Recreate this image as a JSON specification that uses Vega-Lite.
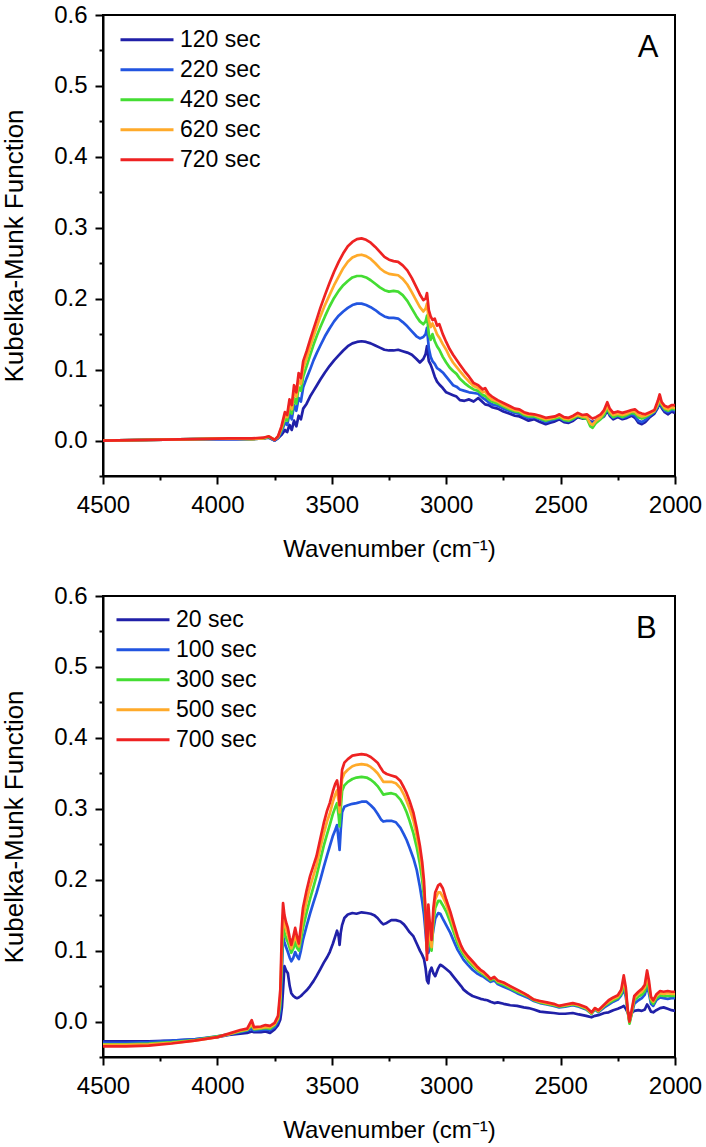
{
"$schema": "https://vega.github.io/schema/vega-lite/v6.json",
"padding": {"left": 0, "top": 2, "right": 0, "bottom": 0},
"config": {
  "font": "Liberation Sans",
  "view": {"stroke": "black", "strokeWidth": 2},
  "axis": {"grid": false, "domainColor": "black", "domainWidth": 2, "tickColor": "black", "tickWidth": 2, "labelColor": "black", "titleColor": "black", "labelFont": "Liberation Sans", "titleFont": "Liberation Sans", "labelFontSize": 24, "titleFontSize": 24, "titleFontWeight": "normal", "labelFlush": false, "labelOverlap": false, "tickCount": 30},
  "legend": {"orient": "none", "title": null, "symbolType": "stroke", "symbolSize": 2809, "symbolStrokeWidth": 3, "labelFontSize": 23, "labelFont": "Liberation Sans", "labelColor": "black", "clipHeight": 27.5, "rowPadding": 2, "padding": 0, "labelOffset": 5, "labelLimit": 300}
},
"columns": 1,
"spacing": 21,
"resolve": {"scale": {"color": "independent"}, "legend": {"color": "independent"}},
"datasets": {
"A": [
{"time":"120 sec","wn":4500,"km":0.000},{"time":"120 sec","wn":4300,"km":0.001},{"time":"120 sec","wn":4100,"km":0.002},{"time":"120 sec","wn":3950,"km":0.002},{"time":"120 sec","wn":3850,"km":0.002},{"time":"120 sec","wn":3800,"km":0.003},{"time":"120 sec","wn":3775,"km":0.004},{"time":"120 sec","wn":3750,"km":0.000},{"time":"120 sec","wn":3735,"km":0.003},{"time":"120 sec","wn":3720,"km":0.008},{"time":"120 sec","wn":3705,"km":0.015},{"time":"120 sec","wn":3695,"km":0.012},{"time":"120 sec","wn":3685,"km":0.022},{"time":"120 sec","wn":3675,"km":0.015},{"time":"120 sec","wn":3665,"km":0.028},{"time":"120 sec","wn":3655,"km":0.020},{"time":"120 sec","wn":3645,"km":0.035},{"time":"120 sec","wn":3635,"km":0.030},{"time":"120 sec","wn":3625,"km":0.045},{"time":"120 sec","wn":3610,"km":0.052},{"time":"120 sec","wn":3595,"km":0.062},{"time":"120 sec","wn":3580,"km":0.070},{"time":"120 sec","wn":3565,"km":0.078},{"time":"120 sec","wn":3550,"km":0.086},{"time":"120 sec","wn":3530,"km":0.096},{"time":"120 sec","wn":3510,"km":0.105},{"time":"120 sec","wn":3490,"km":0.113},{"time":"120 sec","wn":3470,"km":0.120},{"time":"120 sec","wn":3450,"km":0.127},{"time":"120 sec","wn":3430,"km":0.133},{"time":"120 sec","wn":3410,"km":0.137},{"time":"120 sec","wn":3390,"km":0.139},{"time":"120 sec","wn":3370,"km":0.140},{"time":"120 sec","wn":3350,"km":0.139},{"time":"120 sec","wn":3330,"km":0.137},{"time":"120 sec","wn":3310,"km":0.134},{"time":"120 sec","wn":3290,"km":0.131},{"time":"120 sec","wn":3270,"km":0.128},{"time":"120 sec","wn":3250,"km":0.127},{"time":"120 sec","wn":3230,"km":0.127},{"time":"120 sec","wn":3210,"km":0.128},{"time":"120 sec","wn":3190,"km":0.126},{"time":"120 sec","wn":3170,"km":0.124},{"time":"120 sec","wn":3150,"km":0.121},{"time":"120 sec","wn":3130,"km":0.115},{"time":"120 sec","wn":3115,"km":0.110},{"time":"120 sec","wn":3100,"km":0.115},{"time":"120 sec","wn":3090,"km":0.122},{"time":"120 sec","wn":3084,"km":0.133},{"time":"120 sec","wn":3076,"km":0.112},{"time":"120 sec","wn":3068,"km":0.107},{"time":"120 sec","wn":3060,"km":0.100},{"time":"120 sec","wn":3050,"km":0.090},{"time":"120 sec","wn":3040,"km":0.083},{"time":"120 sec","wn":3030,"km":0.079},{"time":"120 sec","wn":3015,"km":0.074},{"time":"120 sec","wn":3000,"km":0.068},{"time":"120 sec","wn":2985,"km":0.066},{"time":"120 sec","wn":2970,"km":0.064},{"time":"120 sec","wn":2955,"km":0.062},{"time":"120 sec","wn":2940,"km":0.057},{"time":"120 sec","wn":2920,"km":0.056},{"time":"120 sec","wn":2900,"km":0.058},{"time":"120 sec","wn":2880,"km":0.055},{"time":"120 sec","wn":2860,"km":0.060},{"time":"120 sec","wn":2840,"km":0.054},{"time":"120 sec","wn":2830,"km":0.051},{"time":"120 sec","wn":2815,"km":0.050},{"time":"120 sec","wn":2800,"km":0.047},{"time":"120 sec","wn":2775,"km":0.045},{"time":"120 sec","wn":2750,"km":0.041},{"time":"120 sec","wn":2725,"km":0.038},{"time":"120 sec","wn":2700,"km":0.035},{"time":"120 sec","wn":2680,"km":0.034},{"time":"120 sec","wn":2660,"km":0.031},{"time":"120 sec","wn":2640,"km":0.028},{"time":"120 sec","wn":2615,"km":0.030},{"time":"120 sec","wn":2590,"km":0.026},{"time":"120 sec","wn":2565,"km":0.023},{"time":"120 sec","wn":2545,"km":0.025},{"time":"120 sec","wn":2525,"km":0.027},{"time":"120 sec","wn":2505,"km":0.030},{"time":"120 sec","wn":2485,"km":0.026},{"time":"120 sec","wn":2465,"km":0.025},{"time":"120 sec","wn":2445,"km":0.028},{"time":"120 sec","wn":2425,"km":0.033},{"time":"120 sec","wn":2405,"km":0.031},{"time":"120 sec","wn":2385,"km":0.031},{"time":"120 sec","wn":2370,"km":0.027},{"time":"120 sec","wn":2360,"km":0.026},{"time":"120 sec","wn":2345,"km":0.028},{"time":"120 sec","wn":2325,"km":0.031},{"time":"120 sec","wn":2310,"km":0.034},{"time":"120 sec","wn":2296,"km":0.042},{"time":"120 sec","wn":2285,"km":0.035},{"time":"120 sec","wn":2270,"km":0.030},{"time":"120 sec","wn":2250,"km":0.033},{"time":"120 sec","wn":2230,"km":0.030},{"time":"120 sec","wn":2210,"km":0.032},{"time":"120 sec","wn":2190,"km":0.035},{"time":"120 sec","wn":2175,"km":0.032},{"time":"120 sec","wn":2160,"km":0.025},{"time":"120 sec","wn":2145,"km":0.023},{"time":"120 sec","wn":2130,"km":0.026},{"time":"120 sec","wn":2110,"km":0.033},{"time":"120 sec","wn":2090,"km":0.038},{"time":"120 sec","wn":2075,"km":0.046},{"time":"120 sec","wn":2067,"km":0.055},{"time":"120 sec","wn":2058,"km":0.046},{"time":"120 sec","wn":2045,"km":0.040},{"time":"120 sec","wn":2030,"km":0.037},{"time":"120 sec","wn":2015,"km":0.041},{"time":"120 sec","wn":2000,"km":0.039},
{"time":"220 sec","wn":4500,"km":0.000},{"time":"220 sec","wn":4300,"km":0.001},{"time":"220 sec","wn":4100,"km":0.002},{"time":"220 sec","wn":3950,"km":0.002},{"time":"220 sec","wn":3850,"km":0.002},{"time":"220 sec","wn":3800,"km":0.003},{"time":"220 sec","wn":3775,"km":0.005},{"time":"220 sec","wn":3750,"km":0.000},{"time":"220 sec","wn":3735,"km":0.004},{"time":"220 sec","wn":3720,"km":0.012},{"time":"220 sec","wn":3705,"km":0.025},{"time":"220 sec","wn":3695,"km":0.022},{"time":"220 sec","wn":3685,"km":0.038},{"time":"220 sec","wn":3675,"km":0.030},{"time":"220 sec","wn":3665,"km":0.050},{"time":"220 sec","wn":3655,"km":0.042},{"time":"220 sec","wn":3645,"km":0.060},{"time":"220 sec","wn":3635,"km":0.055},{"time":"220 sec","wn":3625,"km":0.075},{"time":"220 sec","wn":3610,"km":0.088},{"time":"220 sec","wn":3595,"km":0.100},{"time":"220 sec","wn":3580,"km":0.113},{"time":"220 sec","wn":3565,"km":0.124},{"time":"220 sec","wn":3550,"km":0.134},{"time":"220 sec","wn":3530,"km":0.147},{"time":"220 sec","wn":3510,"km":0.158},{"time":"220 sec","wn":3490,"km":0.168},{"time":"220 sec","wn":3470,"km":0.176},{"time":"220 sec","wn":3450,"km":0.182},{"time":"220 sec","wn":3430,"km":0.187},{"time":"220 sec","wn":3410,"km":0.191},{"time":"220 sec","wn":3390,"km":0.193},{"time":"220 sec","wn":3370,"km":0.193},{"time":"220 sec","wn":3350,"km":0.191},{"time":"220 sec","wn":3330,"km":0.188},{"time":"220 sec","wn":3310,"km":0.184},{"time":"220 sec","wn":3290,"km":0.179},{"time":"220 sec","wn":3270,"km":0.175},{"time":"220 sec","wn":3250,"km":0.173},{"time":"220 sec","wn":3230,"km":0.173},{"time":"220 sec","wn":3210,"km":0.172},{"time":"220 sec","wn":3190,"km":0.167},{"time":"220 sec","wn":3170,"km":0.161},{"time":"220 sec","wn":3150,"km":0.154},{"time":"220 sec","wn":3130,"km":0.147},{"time":"220 sec","wn":3115,"km":0.144},{"time":"220 sec","wn":3100,"km":0.146},{"time":"220 sec","wn":3090,"km":0.150},{"time":"220 sec","wn":3084,"km":0.159},{"time":"220 sec","wn":3076,"km":0.130},{"time":"220 sec","wn":3068,"km":0.118},{"time":"220 sec","wn":3060,"km":0.112},{"time":"220 sec","wn":3050,"km":0.108},{"time":"220 sec","wn":3040,"km":0.102},{"time":"220 sec","wn":3030,"km":0.100},{"time":"220 sec","wn":3015,"km":0.096},{"time":"220 sec","wn":3000,"km":0.090},{"time":"220 sec","wn":2985,"km":0.084},{"time":"220 sec","wn":2970,"km":0.078},{"time":"220 sec","wn":2955,"km":0.076},{"time":"220 sec","wn":2940,"km":0.072},{"time":"220 sec","wn":2920,"km":0.070},{"time":"220 sec","wn":2900,"km":0.068},{"time":"220 sec","wn":2880,"km":0.067},{"time":"220 sec","wn":2860,"km":0.066},{"time":"220 sec","wn":2840,"km":0.060},{"time":"220 sec","wn":2830,"km":0.058},{"time":"220 sec","wn":2815,"km":0.054},{"time":"220 sec","wn":2800,"km":0.051},{"time":"220 sec","wn":2775,"km":0.049},{"time":"220 sec","wn":2750,"km":0.045},{"time":"220 sec","wn":2725,"km":0.042},{"time":"220 sec","wn":2700,"km":0.039},{"time":"220 sec","wn":2680,"km":0.038},{"time":"220 sec","wn":2660,"km":0.034},{"time":"220 sec","wn":2640,"km":0.032},{"time":"220 sec","wn":2615,"km":0.033},{"time":"220 sec","wn":2590,"km":0.030},{"time":"220 sec","wn":2565,"km":0.026},{"time":"220 sec","wn":2545,"km":0.028},{"time":"220 sec","wn":2525,"km":0.030},{"time":"220 sec","wn":2505,"km":0.032},{"time":"220 sec","wn":2485,"km":0.028},{"time":"220 sec","wn":2465,"km":0.027},{"time":"220 sec","wn":2445,"km":0.030},{"time":"220 sec","wn":2425,"km":0.035},{"time":"220 sec","wn":2405,"km":0.032},{"time":"220 sec","wn":2385,"km":0.032},{"time":"220 sec","wn":2370,"km":0.026},{"time":"220 sec","wn":2360,"km":0.024},{"time":"220 sec","wn":2345,"km":0.028},{"time":"220 sec","wn":2325,"km":0.032},{"time":"220 sec","wn":2310,"km":0.036},{"time":"220 sec","wn":2296,"km":0.045},{"time":"220 sec","wn":2285,"km":0.037},{"time":"220 sec","wn":2270,"km":0.032},{"time":"220 sec","wn":2250,"km":0.035},{"time":"220 sec","wn":2230,"km":0.032},{"time":"220 sec","wn":2210,"km":0.034},{"time":"220 sec","wn":2190,"km":0.037},{"time":"220 sec","wn":2175,"km":0.035},{"time":"220 sec","wn":2160,"km":0.028},{"time":"220 sec","wn":2145,"km":0.026},{"time":"220 sec","wn":2130,"km":0.029},{"time":"220 sec","wn":2110,"km":0.035},{"time":"220 sec","wn":2090,"km":0.040},{"time":"220 sec","wn":2075,"km":0.048},{"time":"220 sec","wn":2067,"km":0.057},{"time":"220 sec","wn":2058,"km":0.048},{"time":"220 sec","wn":2045,"km":0.042},{"time":"220 sec","wn":2030,"km":0.040},{"time":"220 sec","wn":2015,"km":0.043},{"time":"220 sec","wn":2000,"km":0.042},
{"time":"420 sec","wn":4500,"km":0.000},{"time":"420 sec","wn":4300,"km":0.001},{"time":"420 sec","wn":4100,"km":0.002},{"time":"420 sec","wn":3950,"km":0.003},{"time":"420 sec","wn":3850,"km":0.002},{"time":"420 sec","wn":3800,"km":0.003},{"time":"420 sec","wn":3775,"km":0.005},{"time":"420 sec","wn":3750,"km":0.001},{"time":"420 sec","wn":3735,"km":0.005},{"time":"420 sec","wn":3720,"km":0.015},{"time":"420 sec","wn":3705,"km":0.030},{"time":"420 sec","wn":3695,"km":0.028},{"time":"420 sec","wn":3685,"km":0.045},{"time":"420 sec","wn":3675,"km":0.038},{"time":"420 sec","wn":3665,"km":0.060},{"time":"420 sec","wn":3655,"km":0.052},{"time":"420 sec","wn":3645,"km":0.075},{"time":"420 sec","wn":3635,"km":0.070},{"time":"420 sec","wn":3625,"km":0.090},{"time":"420 sec","wn":3610,"km":0.105},{"time":"420 sec","wn":3595,"km":0.120},{"time":"420 sec","wn":3580,"km":0.135},{"time":"420 sec","wn":3565,"km":0.148},{"time":"420 sec","wn":3550,"km":0.160},{"time":"420 sec","wn":3530,"km":0.175},{"time":"420 sec","wn":3510,"km":0.189},{"time":"420 sec","wn":3490,"km":0.201},{"time":"420 sec","wn":3470,"km":0.211},{"time":"420 sec","wn":3450,"km":0.219},{"time":"420 sec","wn":3430,"km":0.225},{"time":"420 sec","wn":3410,"km":0.230},{"time":"420 sec","wn":3390,"km":0.232},{"time":"420 sec","wn":3370,"km":0.232},{"time":"420 sec","wn":3350,"km":0.230},{"time":"420 sec","wn":3330,"km":0.226},{"time":"420 sec","wn":3310,"km":0.221},{"time":"420 sec","wn":3290,"km":0.216},{"time":"420 sec","wn":3270,"km":0.212},{"time":"420 sec","wn":3250,"km":0.210},{"time":"420 sec","wn":3230,"km":0.211},{"time":"420 sec","wn":3210,"km":0.210},{"time":"420 sec","wn":3190,"km":0.205},{"time":"420 sec","wn":3170,"km":0.197},{"time":"420 sec","wn":3150,"km":0.186},{"time":"420 sec","wn":3130,"km":0.175},{"time":"420 sec","wn":3115,"km":0.168},{"time":"420 sec","wn":3100,"km":0.164},{"time":"420 sec","wn":3090,"km":0.168},{"time":"420 sec","wn":3084,"km":0.176},{"time":"420 sec","wn":3076,"km":0.150},{"time":"420 sec","wn":3068,"km":0.142},{"time":"420 sec","wn":3060,"km":0.150},{"time":"420 sec","wn":3050,"km":0.140},{"time":"420 sec","wn":3040,"km":0.133},{"time":"420 sec","wn":3030,"km":0.128},{"time":"420 sec","wn":3015,"km":0.118},{"time":"420 sec","wn":3000,"km":0.110},{"time":"420 sec","wn":2985,"km":0.103},{"time":"420 sec","wn":2970,"km":0.098},{"time":"420 sec","wn":2955,"km":0.094},{"time":"420 sec","wn":2940,"km":0.087},{"time":"420 sec","wn":2920,"km":0.081},{"time":"420 sec","wn":2900,"km":0.076},{"time":"420 sec","wn":2880,"km":0.072},{"time":"420 sec","wn":2860,"km":0.070},{"time":"420 sec","wn":2840,"km":0.064},{"time":"420 sec","wn":2830,"km":0.063},{"time":"420 sec","wn":2815,"km":0.058},{"time":"420 sec","wn":2800,"km":0.055},{"time":"420 sec","wn":2775,"km":0.052},{"time":"420 sec","wn":2750,"km":0.048},{"time":"420 sec","wn":2725,"km":0.044},{"time":"420 sec","wn":2700,"km":0.041},{"time":"420 sec","wn":2680,"km":0.040},{"time":"420 sec","wn":2660,"km":0.036},{"time":"420 sec","wn":2640,"km":0.034},{"time":"420 sec","wn":2615,"km":0.034},{"time":"420 sec","wn":2590,"km":0.031},{"time":"420 sec","wn":2565,"km":0.028},{"time":"420 sec","wn":2545,"km":0.030},{"time":"420 sec","wn":2525,"km":0.031},{"time":"420 sec","wn":2505,"km":0.033},{"time":"420 sec","wn":2485,"km":0.029},{"time":"420 sec","wn":2465,"km":0.028},{"time":"420 sec","wn":2445,"km":0.031},{"time":"420 sec","wn":2425,"km":0.035},{"time":"420 sec","wn":2405,"km":0.032},{"time":"420 sec","wn":2385,"km":0.031},{"time":"420 sec","wn":2370,"km":0.020},{"time":"420 sec","wn":2360,"km":0.018},{"time":"420 sec","wn":2345,"km":0.025},{"time":"420 sec","wn":2325,"km":0.030},{"time":"420 sec","wn":2310,"km":0.036},{"time":"420 sec","wn":2296,"km":0.046},{"time":"420 sec","wn":2285,"km":0.038},{"time":"420 sec","wn":2270,"km":0.033},{"time":"420 sec","wn":2250,"km":0.036},{"time":"420 sec","wn":2230,"km":0.033},{"time":"420 sec","wn":2210,"km":0.036},{"time":"420 sec","wn":2190,"km":0.039},{"time":"420 sec","wn":2175,"km":0.038},{"time":"420 sec","wn":2160,"km":0.033},{"time":"420 sec","wn":2145,"km":0.031},{"time":"420 sec","wn":2130,"km":0.033},{"time":"420 sec","wn":2110,"km":0.037},{"time":"420 sec","wn":2090,"km":0.041},{"time":"420 sec","wn":2075,"km":0.050},{"time":"420 sec","wn":2067,"km":0.059},{"time":"420 sec","wn":2058,"km":0.050},{"time":"420 sec","wn":2045,"km":0.044},{"time":"420 sec","wn":2030,"km":0.042},{"time":"420 sec","wn":2015,"km":0.045},{"time":"420 sec","wn":2000,"km":0.044},
{"time":"620 sec","wn":4500,"km":0.000},{"time":"620 sec","wn":4300,"km":0.001},{"time":"620 sec","wn":4100,"km":0.002},{"time":"620 sec","wn":3950,"km":0.003},{"time":"620 sec","wn":3850,"km":0.002},{"time":"620 sec","wn":3800,"km":0.003},{"time":"620 sec","wn":3775,"km":0.006},{"time":"620 sec","wn":3750,"km":0.001},{"time":"620 sec","wn":3735,"km":0.005},{"time":"620 sec","wn":3720,"km":0.018},{"time":"620 sec","wn":3705,"km":0.035},{"time":"620 sec","wn":3695,"km":0.033},{"time":"620 sec","wn":3685,"km":0.052},{"time":"620 sec","wn":3675,"km":0.044},{"time":"620 sec","wn":3665,"km":0.070},{"time":"620 sec","wn":3655,"km":0.062},{"time":"620 sec","wn":3645,"km":0.085},{"time":"620 sec","wn":3635,"km":0.080},{"time":"620 sec","wn":3625,"km":0.102},{"time":"620 sec","wn":3610,"km":0.116},{"time":"620 sec","wn":3595,"km":0.132},{"time":"620 sec","wn":3580,"km":0.147},{"time":"620 sec","wn":3565,"km":0.161},{"time":"620 sec","wn":3550,"km":0.175},{"time":"620 sec","wn":3530,"km":0.191},{"time":"620 sec","wn":3510,"km":0.205},{"time":"620 sec","wn":3490,"km":0.219},{"time":"620 sec","wn":3470,"km":0.231},{"time":"620 sec","wn":3450,"km":0.243},{"time":"620 sec","wn":3430,"km":0.252},{"time":"620 sec","wn":3410,"km":0.258},{"time":"620 sec","wn":3390,"km":0.261},{"time":"620 sec","wn":3370,"km":0.262},{"time":"620 sec","wn":3350,"km":0.260},{"time":"620 sec","wn":3330,"km":0.256},{"time":"620 sec","wn":3310,"km":0.250},{"time":"620 sec","wn":3290,"km":0.243},{"time":"620 sec","wn":3270,"km":0.238},{"time":"620 sec","wn":3250,"km":0.235},{"time":"620 sec","wn":3230,"km":0.234},{"time":"620 sec","wn":3210,"km":0.233},{"time":"620 sec","wn":3190,"km":0.228},{"time":"620 sec","wn":3170,"km":0.220},{"time":"620 sec","wn":3150,"km":0.209},{"time":"620 sec","wn":3130,"km":0.197},{"time":"620 sec","wn":3115,"km":0.188},{"time":"620 sec","wn":3100,"km":0.182},{"time":"620 sec","wn":3090,"km":0.186},{"time":"620 sec","wn":3084,"km":0.193},{"time":"620 sec","wn":3076,"km":0.170},{"time":"620 sec","wn":3068,"km":0.160},{"time":"620 sec","wn":3060,"km":0.165},{"time":"620 sec","wn":3050,"km":0.158},{"time":"620 sec","wn":3040,"km":0.150},{"time":"620 sec","wn":3030,"km":0.145},{"time":"620 sec","wn":3015,"km":0.136},{"time":"620 sec","wn":3000,"km":0.128},{"time":"620 sec","wn":2985,"km":0.118},{"time":"620 sec","wn":2970,"km":0.110},{"time":"620 sec","wn":2955,"km":0.104},{"time":"620 sec","wn":2940,"km":0.098},{"time":"620 sec","wn":2920,"km":0.090},{"time":"620 sec","wn":2900,"km":0.083},{"time":"620 sec","wn":2880,"km":0.077},{"time":"620 sec","wn":2860,"km":0.074},{"time":"620 sec","wn":2840,"km":0.068},{"time":"620 sec","wn":2830,"km":0.069},{"time":"620 sec","wn":2815,"km":0.062},{"time":"620 sec","wn":2800,"km":0.058},{"time":"620 sec","wn":2775,"km":0.055},{"time":"620 sec","wn":2750,"km":0.050},{"time":"620 sec","wn":2725,"km":0.046},{"time":"620 sec","wn":2700,"km":0.043},{"time":"620 sec","wn":2680,"km":0.042},{"time":"620 sec","wn":2660,"km":0.038},{"time":"620 sec","wn":2640,"km":0.036},{"time":"620 sec","wn":2615,"km":0.036},{"time":"620 sec","wn":2590,"km":0.033},{"time":"620 sec","wn":2565,"km":0.030},{"time":"620 sec","wn":2545,"km":0.031},{"time":"620 sec","wn":2525,"km":0.033},{"time":"620 sec","wn":2505,"km":0.035},{"time":"620 sec","wn":2485,"km":0.031},{"time":"620 sec","wn":2465,"km":0.030},{"time":"620 sec","wn":2445,"km":0.033},{"time":"620 sec","wn":2425,"km":0.036},{"time":"620 sec","wn":2405,"km":0.034},{"time":"620 sec","wn":2385,"km":0.033},{"time":"620 sec","wn":2370,"km":0.024},{"time":"620 sec","wn":2360,"km":0.022},{"time":"620 sec","wn":2345,"km":0.028},{"time":"620 sec","wn":2325,"km":0.033},{"time":"620 sec","wn":2310,"km":0.040},{"time":"620 sec","wn":2296,"km":0.049},{"time":"620 sec","wn":2285,"km":0.041},{"time":"620 sec","wn":2270,"km":0.036},{"time":"620 sec","wn":2250,"km":0.038},{"time":"620 sec","wn":2230,"km":0.036},{"time":"620 sec","wn":2210,"km":0.038},{"time":"620 sec","wn":2190,"km":0.041},{"time":"620 sec","wn":2175,"km":0.041},{"time":"620 sec","wn":2160,"km":0.036},{"time":"620 sec","wn":2145,"km":0.034},{"time":"620 sec","wn":2130,"km":0.035},{"time":"620 sec","wn":2110,"km":0.038},{"time":"620 sec","wn":2090,"km":0.042},{"time":"620 sec","wn":2075,"km":0.052},{"time":"620 sec","wn":2067,"km":0.061},{"time":"620 sec","wn":2058,"km":0.052},{"time":"620 sec","wn":2045,"km":0.046},{"time":"620 sec","wn":2030,"km":0.044},{"time":"620 sec","wn":2015,"km":0.047},{"time":"620 sec","wn":2000,"km":0.046},
{"time":"720 sec","wn":4500,"km":0.000},{"time":"720 sec","wn":4300,"km":0.001},{"time":"720 sec","wn":4100,"km":0.002},{"time":"720 sec","wn":3950,"km":0.003},{"time":"720 sec","wn":3850,"km":0.003},{"time":"720 sec","wn":3800,"km":0.004},{"time":"720 sec","wn":3775,"km":0.006},{"time":"720 sec","wn":3750,"km":0.001},{"time":"720 sec","wn":3735,"km":0.006},{"time":"720 sec","wn":3720,"km":0.020},{"time":"720 sec","wn":3705,"km":0.040},{"time":"720 sec","wn":3695,"km":0.036},{"time":"720 sec","wn":3685,"km":0.058},{"time":"720 sec","wn":3675,"km":0.050},{"time":"720 sec","wn":3665,"km":0.078},{"time":"720 sec","wn":3655,"km":0.068},{"time":"720 sec","wn":3645,"km":0.095},{"time":"720 sec","wn":3635,"km":0.088},{"time":"720 sec","wn":3625,"km":0.112},{"time":"720 sec","wn":3610,"km":0.126},{"time":"720 sec","wn":3595,"km":0.142},{"time":"720 sec","wn":3580,"km":0.157},{"time":"720 sec","wn":3565,"km":0.172},{"time":"720 sec","wn":3550,"km":0.187},{"time":"720 sec","wn":3530,"km":0.205},{"time":"720 sec","wn":3510,"km":0.222},{"time":"720 sec","wn":3490,"km":0.238},{"time":"720 sec","wn":3470,"km":0.252},{"time":"720 sec","wn":3450,"km":0.264},{"time":"720 sec","wn":3430,"km":0.274},{"time":"720 sec","wn":3410,"km":0.280},{"time":"720 sec","wn":3390,"km":0.284},{"time":"720 sec","wn":3370,"km":0.285},{"time":"720 sec","wn":3350,"km":0.283},{"time":"720 sec","wn":3330,"km":0.279},{"time":"720 sec","wn":3310,"km":0.273},{"time":"720 sec","wn":3290,"km":0.266},{"time":"720 sec","wn":3270,"km":0.259},{"time":"720 sec","wn":3250,"km":0.255},{"time":"720 sec","wn":3230,"km":0.253},{"time":"720 sec","wn":3210,"km":0.252},{"time":"720 sec","wn":3190,"km":0.247},{"time":"720 sec","wn":3170,"km":0.240},{"time":"720 sec","wn":3150,"km":0.229},{"time":"720 sec","wn":3130,"km":0.216},{"time":"720 sec","wn":3115,"km":0.206},{"time":"720 sec","wn":3100,"km":0.198},{"time":"720 sec","wn":3090,"km":0.200},{"time":"720 sec","wn":3084,"km":0.208},{"time":"720 sec","wn":3076,"km":0.184},{"time":"720 sec","wn":3068,"km":0.175},{"time":"720 sec","wn":3060,"km":0.170},{"time":"720 sec","wn":3050,"km":0.172},{"time":"720 sec","wn":3040,"km":0.162},{"time":"720 sec","wn":3030,"km":0.164},{"time":"720 sec","wn":3015,"km":0.150},{"time":"720 sec","wn":3000,"km":0.139},{"time":"720 sec","wn":2985,"km":0.129},{"time":"720 sec","wn":2970,"km":0.121},{"time":"720 sec","wn":2955,"km":0.114},{"time":"720 sec","wn":2940,"km":0.107},{"time":"720 sec","wn":2920,"km":0.098},{"time":"720 sec","wn":2900,"km":0.090},{"time":"720 sec","wn":2880,"km":0.081},{"time":"720 sec","wn":2860,"km":0.078},{"time":"720 sec","wn":2840,"km":0.072},{"time":"720 sec","wn":2830,"km":0.074},{"time":"720 sec","wn":2815,"km":0.066},{"time":"720 sec","wn":2800,"km":0.062},{"time":"720 sec","wn":2775,"km":0.057},{"time":"720 sec","wn":2750,"km":0.053},{"time":"720 sec","wn":2725,"km":0.049},{"time":"720 sec","wn":2700,"km":0.045},{"time":"720 sec","wn":2680,"km":0.044},{"time":"720 sec","wn":2660,"km":0.040},{"time":"720 sec","wn":2640,"km":0.038},{"time":"720 sec","wn":2615,"km":0.037},{"time":"720 sec","wn":2590,"km":0.035},{"time":"720 sec","wn":2565,"km":0.032},{"time":"720 sec","wn":2545,"km":0.033},{"time":"720 sec","wn":2525,"km":0.034},{"time":"720 sec","wn":2505,"km":0.037},{"time":"720 sec","wn":2485,"km":0.033},{"time":"720 sec","wn":2465,"km":0.032},{"time":"720 sec","wn":2445,"km":0.035},{"time":"720 sec","wn":2425,"km":0.039},{"time":"720 sec","wn":2405,"km":0.036},{"time":"720 sec","wn":2385,"km":0.037},{"time":"720 sec","wn":2370,"km":0.033},{"time":"720 sec","wn":2360,"km":0.031},{"time":"720 sec","wn":2345,"km":0.033},{"time":"720 sec","wn":2325,"km":0.037},{"time":"720 sec","wn":2310,"km":0.043},{"time":"720 sec","wn":2296,"km":0.054},{"time":"720 sec","wn":2285,"km":0.045},{"time":"720 sec","wn":2270,"km":0.039},{"time":"720 sec","wn":2250,"km":0.041},{"time":"720 sec","wn":2230,"km":0.039},{"time":"720 sec","wn":2210,"km":0.041},{"time":"720 sec","wn":2190,"km":0.043},{"time":"720 sec","wn":2175,"km":0.044},{"time":"720 sec","wn":2160,"km":0.040},{"time":"720 sec","wn":2145,"km":0.038},{"time":"720 sec","wn":2130,"km":0.037},{"time":"720 sec","wn":2110,"km":0.040},{"time":"720 sec","wn":2090,"km":0.043},{"time":"720 sec","wn":2075,"km":0.056},{"time":"720 sec","wn":2067,"km":0.065},{"time":"720 sec","wn":2058,"km":0.054},{"time":"720 sec","wn":2045,"km":0.049},{"time":"720 sec","wn":2030,"km":0.047},{"time":"720 sec","wn":2015,"km":0.050},{"time":"720 sec","wn":2000,"km":0.050}
],
"B": [
{"time":"20 sec","wn":4500,"km":-0.028},{"time":"20 sec","wn":4400,"km":-0.028},{"time":"20 sec","wn":4300,"km":-0.028},{"time":"20 sec","wn":4200,"km":-0.027},{"time":"20 sec","wn":4100,"km":-0.025},{"time":"20 sec","wn":4000,"km":-0.022},{"time":"20 sec","wn":3950,"km":-0.019},{"time":"20 sec","wn":3900,"km":-0.017},{"time":"20 sec","wn":3870,"km":-0.016},{"time":"20 sec","wn":3850,"km":-0.014},{"time":"20 sec","wn":3840,"km":-0.015},{"time":"20 sec","wn":3810,"km":-0.015},{"time":"20 sec","wn":3790,"km":-0.014},{"time":"20 sec","wn":3770,"km":-0.016},{"time":"20 sec","wn":3750,"km":-0.011},{"time":"20 sec","wn":3735,"km":-0.005},{"time":"20 sec","wn":3725,"km":0.003},{"time":"20 sec","wn":3718,"km":0.020},{"time":"20 sec","wn":3713,"km":0.045},{"time":"20 sec","wn":3707,"km":0.078},{"time":"20 sec","wn":3700,"km":0.072},{"time":"20 sec","wn":3692,"km":0.068},{"time":"20 sec","wn":3684,"km":0.050},{"time":"20 sec","wn":3677,"km":0.040},{"time":"20 sec","wn":3668,"km":0.036},{"time":"20 sec","wn":3660,"km":0.034},{"time":"20 sec","wn":3652,"km":0.033},{"time":"20 sec","wn":3644,"km":0.034},{"time":"20 sec","wn":3635,"km":0.036},{"time":"20 sec","wn":3626,"km":0.039},{"time":"20 sec","wn":3610,"km":0.044},{"time":"20 sec","wn":3595,"km":0.050},{"time":"20 sec","wn":3580,"km":0.057},{"time":"20 sec","wn":3567,"km":0.064},{"time":"20 sec","wn":3550,"km":0.074},{"time":"20 sec","wn":3535,"km":0.083},{"time":"20 sec","wn":3520,"km":0.091},{"time":"20 sec","wn":3509,"km":0.098},{"time":"20 sec","wn":3495,"km":0.110},{"time":"20 sec","wn":3485,"km":0.120},{"time":"20 sec","wn":3477,"km":0.128},{"time":"20 sec","wn":3470,"km":0.120},{"time":"20 sec","wn":3466,"km":0.108},{"time":"20 sec","wn":3461,"km":0.125},{"time":"20 sec","wn":3455,"km":0.136},{"time":"20 sec","wn":3445,"km":0.146},{"time":"20 sec","wn":3430,"km":0.151},{"time":"20 sec","wn":3410,"km":0.153},{"time":"20 sec","wn":3392,"km":0.152},{"time":"20 sec","wn":3370,"km":0.154},{"time":"20 sec","wn":3348,"km":0.153},{"time":"20 sec","wn":3330,"km":0.152},{"time":"20 sec","wn":3315,"km":0.150},{"time":"20 sec","wn":3300,"km":0.146},{"time":"20 sec","wn":3285,"km":0.140},{"time":"20 sec","wn":3275,"km":0.137},{"time":"20 sec","wn":3260,"km":0.139},{"time":"20 sec","wn":3240,"km":0.143},{"time":"20 sec","wn":3220,"km":0.143},{"time":"20 sec","wn":3200,"km":0.141},{"time":"20 sec","wn":3185,"km":0.137},{"time":"20 sec","wn":3173,"km":0.132},{"time":"20 sec","wn":3160,"km":0.126},{"time":"20 sec","wn":3143,"km":0.120},{"time":"20 sec","wn":3129,"km":0.110},{"time":"20 sec","wn":3115,"km":0.100},{"time":"20 sec","wn":3105,"km":0.094},{"time":"20 sec","wn":3097,"km":0.088},{"time":"20 sec","wn":3090,"km":0.075},{"time":"20 sec","wn":3084,"km":0.058},{"time":"20 sec","wn":3078,"km":0.054},{"time":"20 sec","wn":3072,"km":0.070},{"time":"20 sec","wn":3064,"km":0.076},{"time":"20 sec","wn":3056,"km":0.068},{"time":"20 sec","wn":3048,"km":0.064},{"time":"20 sec","wn":3035,"km":0.075},{"time":"20 sec","wn":3026,"km":0.080},{"time":"20 sec","wn":3015,"km":0.078},{"time":"20 sec","wn":3000,"km":0.074},{"time":"20 sec","wn":2982,"km":0.069},{"time":"20 sec","wn":2965,"km":0.062},{"time":"20 sec","wn":2950,"km":0.056},{"time":"20 sec","wn":2935,"km":0.050},{"time":"20 sec","wn":2924,"km":0.045},{"time":"20 sec","wn":2905,"km":0.040},{"time":"20 sec","wn":2885,"km":0.036},{"time":"20 sec","wn":2866,"km":0.034},{"time":"20 sec","wn":2850,"km":0.032},{"time":"20 sec","wn":2836,"km":0.031},{"time":"20 sec","wn":2820,"km":0.030},{"time":"20 sec","wn":2806,"km":0.028},{"time":"20 sec","wn":2790,"km":0.026},{"time":"20 sec","wn":2775,"km":0.027},{"time":"20 sec","wn":2749,"km":0.025},{"time":"20 sec","wn":2720,"km":0.023},{"time":"20 sec","wn":2690,"km":0.022},{"time":"20 sec","wn":2661,"km":0.020},{"time":"20 sec","wn":2640,"km":0.019},{"time":"20 sec","wn":2617,"km":0.017},{"time":"20 sec","wn":2590,"km":0.014},{"time":"20 sec","wn":2560,"km":0.013},{"time":"20 sec","wn":2530,"km":0.012},{"time":"20 sec","wn":2506,"km":0.011},{"time":"20 sec","wn":2480,"km":0.011},{"time":"20 sec","wn":2447,"km":0.012},{"time":"20 sec","wn":2420,"km":0.010},{"time":"20 sec","wn":2388,"km":0.008},{"time":"20 sec","wn":2365,"km":0.006},{"time":"20 sec","wn":2350,"km":0.008},{"time":"20 sec","wn":2335,"km":0.009},{"time":"20 sec","wn":2309,"km":0.012},{"time":"20 sec","wn":2290,"km":0.013},{"time":"20 sec","wn":2270,"km":0.016},{"time":"20 sec","wn":2250,"km":0.018},{"time":"20 sec","wn":2235,"km":0.020},{"time":"20 sec","wn":2224,"km":0.022},{"time":"20 sec","wn":2215,"km":0.018},{"time":"20 sec","wn":2207,"km":0.013},{"time":"20 sec","wn":2199,"km":0.011},{"time":"20 sec","wn":2190,"km":0.012},{"time":"20 sec","wn":2178,"km":0.015},{"time":"20 sec","wn":2160,"km":0.016},{"time":"20 sec","wn":2145,"km":0.015},{"time":"20 sec","wn":2132,"km":0.017},{"time":"20 sec","wn":2122,"km":0.024},{"time":"20 sec","wn":2114,"km":0.020},{"time":"20 sec","wn":2105,"km":0.014},{"time":"20 sec","wn":2095,"km":0.013},{"time":"20 sec","wn":2082,"km":0.016},{"time":"20 sec","wn":2065,"km":0.019},{"time":"20 sec","wn":2050,"km":0.020},{"time":"20 sec","wn":2032,"km":0.018},{"time":"20 sec","wn":2015,"km":0.016},{"time":"20 sec","wn":2000,"km":0.015},
{"time":"100 sec","wn":4500,"km":-0.030},{"time":"100 sec","wn":4400,"km":-0.030},{"time":"100 sec","wn":4300,"km":-0.029},{"time":"100 sec","wn":4200,"km":-0.027},{"time":"100 sec","wn":4100,"km":-0.025},{"time":"100 sec","wn":4000,"km":-0.021},{"time":"100 sec","wn":3950,"km":-0.018},{"time":"100 sec","wn":3900,"km":-0.015},{"time":"100 sec","wn":3870,"km":-0.013},{"time":"100 sec","wn":3850,"km":-0.010},{"time":"100 sec","wn":3840,"km":-0.013},{"time":"100 sec","wn":3810,"km":-0.012},{"time":"100 sec","wn":3790,"km":-0.011},{"time":"100 sec","wn":3770,"km":-0.012},{"time":"100 sec","wn":3750,"km":-0.008},{"time":"100 sec","wn":3735,"km":0.000},{"time":"100 sec","wn":3725,"km":0.015},{"time":"100 sec","wn":3718,"km":0.070},{"time":"100 sec","wn":3713,"km":0.120},{"time":"100 sec","wn":3707,"km":0.112},{"time":"100 sec","wn":3700,"km":0.105},{"time":"100 sec","wn":3692,"km":0.098},{"time":"100 sec","wn":3684,"km":0.090},{"time":"100 sec","wn":3677,"km":0.085},{"time":"100 sec","wn":3668,"km":0.090},{"time":"100 sec","wn":3660,"km":0.098},{"time":"100 sec","wn":3652,"km":0.092},{"time":"100 sec","wn":3644,"km":0.088},{"time":"100 sec","wn":3635,"km":0.100},{"time":"100 sec","wn":3626,"km":0.115},{"time":"100 sec","wn":3610,"km":0.135},{"time":"100 sec","wn":3595,"km":0.152},{"time":"100 sec","wn":3580,"km":0.168},{"time":"100 sec","wn":3567,"km":0.181},{"time":"100 sec","wn":3550,"km":0.200},{"time":"100 sec","wn":3535,"km":0.218},{"time":"100 sec","wn":3520,"km":0.235},{"time":"100 sec","wn":3509,"km":0.247},{"time":"100 sec","wn":3495,"km":0.262},{"time":"100 sec","wn":3485,"km":0.270},{"time":"100 sec","wn":3477,"km":0.277},{"time":"100 sec","wn":3470,"km":0.255},{"time":"100 sec","wn":3466,"km":0.242},{"time":"100 sec","wn":3461,"km":0.270},{"time":"100 sec","wn":3455,"km":0.295},{"time":"100 sec","wn":3445,"km":0.303},{"time":"100 sec","wn":3430,"km":0.305},{"time":"100 sec","wn":3410,"km":0.307},{"time":"100 sec","wn":3392,"km":0.308},{"time":"100 sec","wn":3370,"km":0.310},{"time":"100 sec","wn":3348,"km":0.310},{"time":"100 sec","wn":3330,"km":0.305},{"time":"100 sec","wn":3315,"km":0.300},{"time":"100 sec","wn":3300,"km":0.293},{"time":"100 sec","wn":3285,"km":0.285},{"time":"100 sec","wn":3275,"km":0.282},{"time":"100 sec","wn":3260,"km":0.283},{"time":"100 sec","wn":3240,"km":0.283},{"time":"100 sec","wn":3220,"km":0.281},{"time":"100 sec","wn":3200,"km":0.273},{"time":"100 sec","wn":3185,"km":0.264},{"time":"100 sec","wn":3173,"km":0.256},{"time":"100 sec","wn":3160,"km":0.245},{"time":"100 sec","wn":3143,"km":0.230},{"time":"100 sec","wn":3129,"km":0.214},{"time":"100 sec","wn":3115,"km":0.190},{"time":"100 sec","wn":3105,"km":0.170},{"time":"100 sec","wn":3097,"km":0.150},{"time":"100 sec","wn":3090,"km":0.125},{"time":"100 sec","wn":3084,"km":0.100},{"time":"100 sec","wn":3078,"km":0.097},{"time":"100 sec","wn":3072,"km":0.105},{"time":"100 sec","wn":3064,"km":0.111},{"time":"100 sec","wn":3056,"km":0.130},{"time":"100 sec","wn":3048,"km":0.145},{"time":"100 sec","wn":3035,"km":0.153},{"time":"100 sec","wn":3026,"km":0.152},{"time":"100 sec","wn":3015,"km":0.145},{"time":"100 sec","wn":3000,"km":0.136},{"time":"100 sec","wn":2982,"km":0.125},{"time":"100 sec","wn":2965,"km":0.112},{"time":"100 sec","wn":2950,"km":0.101},{"time":"100 sec","wn":2935,"km":0.093},{"time":"100 sec","wn":2924,"km":0.087},{"time":"100 sec","wn":2905,"km":0.080},{"time":"100 sec","wn":2885,"km":0.073},{"time":"100 sec","wn":2866,"km":0.068},{"time":"100 sec","wn":2850,"km":0.065},{"time":"100 sec","wn":2836,"km":0.063},{"time":"100 sec","wn":2820,"km":0.059},{"time":"100 sec","wn":2806,"km":0.056},{"time":"100 sec","wn":2790,"km":0.058},{"time":"100 sec","wn":2775,"km":0.053},{"time":"100 sec","wn":2749,"km":0.049},{"time":"100 sec","wn":2720,"km":0.045},{"time":"100 sec","wn":2690,"km":0.040},{"time":"100 sec","wn":2661,"km":0.036},{"time":"100 sec","wn":2640,"km":0.033},{"time":"100 sec","wn":2617,"km":0.029},{"time":"100 sec","wn":2590,"km":0.026},{"time":"100 sec","wn":2560,"km":0.024},{"time":"100 sec","wn":2530,"km":0.022},{"time":"100 sec","wn":2506,"km":0.020},{"time":"100 sec","wn":2480,"km":0.021},{"time":"100 sec","wn":2447,"km":0.023},{"time":"100 sec","wn":2420,"km":0.021},{"time":"100 sec","wn":2388,"km":0.017},{"time":"100 sec","wn":2365,"km":0.011},{"time":"100 sec","wn":2350,"km":0.017},{"time":"100 sec","wn":2335,"km":0.013},{"time":"100 sec","wn":2309,"km":0.020},{"time":"100 sec","wn":2290,"km":0.024},{"time":"100 sec","wn":2270,"km":0.028},{"time":"100 sec","wn":2250,"km":0.031},{"time":"100 sec","wn":2235,"km":0.037},{"time":"100 sec","wn":2224,"km":0.045},{"time":"100 sec","wn":2215,"km":0.035},{"time":"100 sec","wn":2207,"km":0.015},{"time":"100 sec","wn":2199,"km":0.000},{"time":"100 sec","wn":2190,"km":0.010},{"time":"100 sec","wn":2178,"km":0.025},{"time":"100 sec","wn":2160,"km":0.030},{"time":"100 sec","wn":2145,"km":0.033},{"time":"100 sec","wn":2132,"km":0.038},{"time":"100 sec","wn":2122,"km":0.050},{"time":"100 sec","wn":2114,"km":0.040},{"time":"100 sec","wn":2105,"km":0.025},{"time":"100 sec","wn":2095,"km":0.022},{"time":"100 sec","wn":2082,"km":0.030},{"time":"100 sec","wn":2065,"km":0.034},{"time":"100 sec","wn":2050,"km":0.033},{"time":"100 sec","wn":2032,"km":0.032},{"time":"100 sec","wn":2015,"km":0.033},{"time":"100 sec","wn":2000,"km":0.033},
{"time":"300 sec","wn":4500,"km":-0.032},{"time":"300 sec","wn":4400,"km":-0.032},{"time":"300 sec","wn":4300,"km":-0.031},{"time":"300 sec","wn":4200,"km":-0.029},{"time":"300 sec","wn":4100,"km":-0.026},{"time":"300 sec","wn":4000,"km":-0.021},{"time":"300 sec","wn":3950,"km":-0.018},{"time":"300 sec","wn":3900,"km":-0.014},{"time":"300 sec","wn":3870,"km":-0.012},{"time":"300 sec","wn":3850,"km":-0.006},{"time":"300 sec","wn":3840,"km":-0.011},{"time":"300 sec","wn":3810,"km":-0.010},{"time":"300 sec","wn":3790,"km":-0.009},{"time":"300 sec","wn":3770,"km":-0.010},{"time":"300 sec","wn":3750,"km":-0.005},{"time":"300 sec","wn":3735,"km":0.003},{"time":"300 sec","wn":3725,"km":0.025},{"time":"300 sec","wn":3718,"km":0.090},{"time":"300 sec","wn":3713,"km":0.135},{"time":"300 sec","wn":3707,"km":0.125},{"time":"300 sec","wn":3700,"km":0.118},{"time":"300 sec","wn":3692,"km":0.112},{"time":"300 sec","wn":3684,"km":0.104},{"time":"300 sec","wn":3677,"km":0.097},{"time":"300 sec","wn":3668,"km":0.103},{"time":"300 sec","wn":3660,"km":0.112},{"time":"300 sec","wn":3652,"km":0.104},{"time":"300 sec","wn":3644,"km":0.100},{"time":"300 sec","wn":3635,"km":0.115},{"time":"300 sec","wn":3626,"km":0.132},{"time":"300 sec","wn":3610,"km":0.154},{"time":"300 sec","wn":3595,"km":0.173},{"time":"300 sec","wn":3580,"km":0.190},{"time":"300 sec","wn":3567,"km":0.205},{"time":"300 sec","wn":3550,"km":0.228},{"time":"300 sec","wn":3535,"km":0.248},{"time":"300 sec","wn":3520,"km":0.265},{"time":"300 sec","wn":3509,"km":0.277},{"time":"300 sec","wn":3495,"km":0.293},{"time":"300 sec","wn":3485,"km":0.302},{"time":"300 sec","wn":3477,"km":0.308},{"time":"300 sec","wn":3470,"km":0.290},{"time":"300 sec","wn":3466,"km":0.275},{"time":"300 sec","wn":3461,"km":0.300},{"time":"300 sec","wn":3455,"km":0.325},{"time":"300 sec","wn":3445,"km":0.333},{"time":"300 sec","wn":3430,"km":0.338},{"time":"300 sec","wn":3410,"km":0.342},{"time":"300 sec","wn":3392,"km":0.344},{"time":"300 sec","wn":3370,"km":0.345},{"time":"300 sec","wn":3348,"km":0.344},{"time":"300 sec","wn":3330,"km":0.341},{"time":"300 sec","wn":3315,"km":0.337},{"time":"300 sec","wn":3300,"km":0.332},{"time":"300 sec","wn":3285,"km":0.325},{"time":"300 sec","wn":3275,"km":0.320},{"time":"300 sec","wn":3260,"km":0.321},{"time":"300 sec","wn":3240,"km":0.322},{"time":"300 sec","wn":3220,"km":0.320},{"time":"300 sec","wn":3200,"km":0.313},{"time":"300 sec","wn":3185,"km":0.304},{"time":"300 sec","wn":3173,"km":0.295},{"time":"300 sec","wn":3160,"km":0.283},{"time":"300 sec","wn":3143,"km":0.265},{"time":"300 sec","wn":3129,"km":0.246},{"time":"300 sec","wn":3115,"km":0.222},{"time":"300 sec","wn":3105,"km":0.200},{"time":"300 sec","wn":3097,"km":0.175},{"time":"300 sec","wn":3090,"km":0.145},{"time":"300 sec","wn":3084,"km":0.105},{"time":"300 sec","wn":3078,"km":0.120},{"time":"300 sec","wn":3072,"km":0.110},{"time":"300 sec","wn":3064,"km":0.100},{"time":"300 sec","wn":3056,"km":0.140},{"time":"300 sec","wn":3048,"km":0.160},{"time":"300 sec","wn":3035,"km":0.170},{"time":"300 sec","wn":3026,"km":0.170},{"time":"300 sec","wn":3015,"km":0.164},{"time":"300 sec","wn":3000,"km":0.155},{"time":"300 sec","wn":2982,"km":0.140},{"time":"300 sec","wn":2965,"km":0.124},{"time":"300 sec","wn":2950,"km":0.110},{"time":"300 sec","wn":2935,"km":0.100},{"time":"300 sec","wn":2924,"km":0.094},{"time":"300 sec","wn":2905,"km":0.086},{"time":"300 sec","wn":2885,"km":0.079},{"time":"300 sec","wn":2866,"km":0.073},{"time":"300 sec","wn":2850,"km":0.069},{"time":"300 sec","wn":2836,"km":0.066},{"time":"300 sec","wn":2820,"km":0.062},{"time":"300 sec","wn":2806,"km":0.058},{"time":"300 sec","wn":2790,"km":0.061},{"time":"300 sec","wn":2775,"km":0.055},{"time":"300 sec","wn":2749,"km":0.052},{"time":"300 sec","wn":2720,"km":0.047},{"time":"300 sec","wn":2690,"km":0.042},{"time":"300 sec","wn":2661,"km":0.038},{"time":"300 sec","wn":2640,"km":0.035},{"time":"300 sec","wn":2617,"km":0.030},{"time":"300 sec","wn":2590,"km":0.027},{"time":"300 sec","wn":2560,"km":0.025},{"time":"300 sec","wn":2530,"km":0.023},{"time":"300 sec","wn":2506,"km":0.021},{"time":"300 sec","wn":2480,"km":0.022},{"time":"300 sec","wn":2447,"km":0.024},{"time":"300 sec","wn":2420,"km":0.022},{"time":"300 sec","wn":2388,"km":0.018},{"time":"300 sec","wn":2365,"km":0.011},{"time":"300 sec","wn":2350,"km":0.018},{"time":"300 sec","wn":2335,"km":0.014},{"time":"300 sec","wn":2309,"km":0.022},{"time":"300 sec","wn":2290,"km":0.026},{"time":"300 sec","wn":2270,"km":0.030},{"time":"300 sec","wn":2250,"km":0.033},{"time":"300 sec","wn":2235,"km":0.039},{"time":"300 sec","wn":2224,"km":0.052},{"time":"300 sec","wn":2215,"km":0.040},{"time":"300 sec","wn":2207,"km":0.015},{"time":"300 sec","wn":2199,"km":-0.003},{"time":"300 sec","wn":2190,"km":0.010},{"time":"300 sec","wn":2178,"km":0.030},{"time":"300 sec","wn":2160,"km":0.035},{"time":"300 sec","wn":2145,"km":0.038},{"time":"300 sec","wn":2132,"km":0.043},{"time":"300 sec","wn":2122,"km":0.058},{"time":"300 sec","wn":2114,"km":0.046},{"time":"300 sec","wn":2105,"km":0.029},{"time":"300 sec","wn":2095,"km":0.025},{"time":"300 sec","wn":2082,"km":0.033},{"time":"300 sec","wn":2065,"km":0.037},{"time":"300 sec","wn":2050,"km":0.036},{"time":"300 sec","wn":2032,"km":0.036},{"time":"300 sec","wn":2015,"km":0.036},{"time":"300 sec","wn":2000,"km":0.036},
{"time":"500 sec","wn":4500,"km":-0.033},{"time":"500 sec","wn":4400,"km":-0.033},{"time":"500 sec","wn":4300,"km":-0.032},{"time":"500 sec","wn":4200,"km":-0.030},{"time":"500 sec","wn":4100,"km":-0.027},{"time":"500 sec","wn":4000,"km":-0.022},{"time":"500 sec","wn":3950,"km":-0.018},{"time":"500 sec","wn":3900,"km":-0.013},{"time":"500 sec","wn":3870,"km":-0.011},{"time":"500 sec","wn":3850,"km":-0.004},{"time":"500 sec","wn":3840,"km":-0.010},{"time":"500 sec","wn":3810,"km":-0.009},{"time":"500 sec","wn":3790,"km":-0.008},{"time":"500 sec","wn":3770,"km":-0.008},{"time":"500 sec","wn":3750,"km":-0.004},{"time":"500 sec","wn":3735,"km":0.005},{"time":"500 sec","wn":3725,"km":0.035},{"time":"500 sec","wn":3718,"km":0.110},{"time":"500 sec","wn":3713,"km":0.150},{"time":"500 sec","wn":3707,"km":0.138},{"time":"500 sec","wn":3700,"km":0.130},{"time":"500 sec","wn":3692,"km":0.122},{"time":"500 sec","wn":3684,"km":0.112},{"time":"500 sec","wn":3677,"km":0.103},{"time":"500 sec","wn":3668,"km":0.112},{"time":"500 sec","wn":3660,"km":0.122},{"time":"500 sec","wn":3652,"km":0.113},{"time":"500 sec","wn":3644,"km":0.106},{"time":"500 sec","wn":3635,"km":0.125},{"time":"500 sec","wn":3626,"km":0.146},{"time":"500 sec","wn":3610,"km":0.170},{"time":"500 sec","wn":3595,"km":0.190},{"time":"500 sec","wn":3580,"km":0.206},{"time":"500 sec","wn":3567,"km":0.220},{"time":"500 sec","wn":3550,"km":0.245},{"time":"500 sec","wn":3535,"km":0.265},{"time":"500 sec","wn":3520,"km":0.283},{"time":"500 sec","wn":3509,"km":0.293},{"time":"500 sec","wn":3495,"km":0.310},{"time":"500 sec","wn":3485,"km":0.320},{"time":"500 sec","wn":3477,"km":0.326},{"time":"500 sec","wn":3470,"km":0.310},{"time":"500 sec","wn":3466,"km":0.295},{"time":"500 sec","wn":3461,"km":0.318},{"time":"500 sec","wn":3455,"km":0.342},{"time":"500 sec","wn":3445,"km":0.350},{"time":"500 sec","wn":3430,"km":0.355},{"time":"500 sec","wn":3410,"km":0.360},{"time":"500 sec","wn":3392,"km":0.362},{"time":"500 sec","wn":3370,"km":0.363},{"time":"500 sec","wn":3348,"km":0.362},{"time":"500 sec","wn":3330,"km":0.359},{"time":"500 sec","wn":3315,"km":0.355},{"time":"500 sec","wn":3300,"km":0.350},{"time":"500 sec","wn":3285,"km":0.343},{"time":"500 sec","wn":3275,"km":0.338},{"time":"500 sec","wn":3260,"km":0.338},{"time":"500 sec","wn":3240,"km":0.338},{"time":"500 sec","wn":3220,"km":0.336},{"time":"500 sec","wn":3200,"km":0.329},{"time":"500 sec","wn":3185,"km":0.320},{"time":"500 sec","wn":3173,"km":0.311},{"time":"500 sec","wn":3160,"km":0.300},{"time":"500 sec","wn":3143,"km":0.283},{"time":"500 sec","wn":3129,"km":0.262},{"time":"500 sec","wn":3115,"km":0.238},{"time":"500 sec","wn":3105,"km":0.215},{"time":"500 sec","wn":3097,"km":0.188},{"time":"500 sec","wn":3090,"km":0.155},{"time":"500 sec","wn":3084,"km":0.100},{"time":"500 sec","wn":3078,"km":0.140},{"time":"500 sec","wn":3072,"km":0.120},{"time":"500 sec","wn":3064,"km":0.105},{"time":"500 sec","wn":3056,"km":0.150},{"time":"500 sec","wn":3048,"km":0.172},{"time":"500 sec","wn":3035,"km":0.182},{"time":"500 sec","wn":3026,"km":0.182},{"time":"500 sec","wn":3015,"km":0.176},{"time":"500 sec","wn":3000,"km":0.165},{"time":"500 sec","wn":2982,"km":0.148},{"time":"500 sec","wn":2965,"km":0.131},{"time":"500 sec","wn":2950,"km":0.116},{"time":"500 sec","wn":2935,"km":0.104},{"time":"500 sec","wn":2924,"km":0.098},{"time":"500 sec","wn":2905,"km":0.089},{"time":"500 sec","wn":2885,"km":0.082},{"time":"500 sec","wn":2866,"km":0.075},{"time":"500 sec","wn":2850,"km":0.071},{"time":"500 sec","wn":2836,"km":0.068},{"time":"500 sec","wn":2820,"km":0.064},{"time":"500 sec","wn":2806,"km":0.060},{"time":"500 sec","wn":2790,"km":0.062},{"time":"500 sec","wn":2775,"km":0.057},{"time":"500 sec","wn":2749,"km":0.054},{"time":"500 sec","wn":2720,"km":0.049},{"time":"500 sec","wn":2690,"km":0.044},{"time":"500 sec","wn":2661,"km":0.039},{"time":"500 sec","wn":2640,"km":0.036},{"time":"500 sec","wn":2617,"km":0.031},{"time":"500 sec","wn":2590,"km":0.028},{"time":"500 sec","wn":2560,"km":0.026},{"time":"500 sec","wn":2530,"km":0.024},{"time":"500 sec","wn":2506,"km":0.022},{"time":"500 sec","wn":2480,"km":0.023},{"time":"500 sec","wn":2447,"km":0.025},{"time":"500 sec","wn":2420,"km":0.023},{"time":"500 sec","wn":2388,"km":0.019},{"time":"500 sec","wn":2365,"km":0.012},{"time":"500 sec","wn":2350,"km":0.019},{"time":"500 sec","wn":2335,"km":0.015},{"time":"500 sec","wn":2309,"km":0.023},{"time":"500 sec","wn":2290,"km":0.028},{"time":"500 sec","wn":2270,"km":0.032},{"time":"500 sec","wn":2250,"km":0.035},{"time":"500 sec","wn":2235,"km":0.042},{"time":"500 sec","wn":2224,"km":0.058},{"time":"500 sec","wn":2215,"km":0.044},{"time":"500 sec","wn":2207,"km":0.016},{"time":"500 sec","wn":2199,"km":0.000},{"time":"500 sec","wn":2190,"km":0.013},{"time":"500 sec","wn":2178,"km":0.033},{"time":"500 sec","wn":2160,"km":0.039},{"time":"500 sec","wn":2145,"km":0.042},{"time":"500 sec","wn":2132,"km":0.048},{"time":"500 sec","wn":2122,"km":0.065},{"time":"500 sec","wn":2114,"km":0.052},{"time":"500 sec","wn":2105,"km":0.032},{"time":"500 sec","wn":2095,"km":0.028},{"time":"500 sec","wn":2082,"km":0.036},{"time":"500 sec","wn":2065,"km":0.040},{"time":"500 sec","wn":2050,"km":0.039},{"time":"500 sec","wn":2032,"km":0.040},{"time":"500 sec","wn":2015,"km":0.039},{"time":"500 sec","wn":2000,"km":0.039},
{"time":"700 sec","wn":4500,"km":-0.035},{"time":"700 sec","wn":4400,"km":-0.035},{"time":"700 sec","wn":4300,"km":-0.034},{"time":"700 sec","wn":4200,"km":-0.031},{"time":"700 sec","wn":4100,"km":-0.027},{"time":"700 sec","wn":4000,"km":-0.022},{"time":"700 sec","wn":3950,"km":-0.017},{"time":"700 sec","wn":3900,"km":-0.012},{"time":"700 sec","wn":3870,"km":-0.010},{"time":"700 sec","wn":3850,"km":0.002},{"time":"700 sec","wn":3840,"km":-0.008},{"time":"700 sec","wn":3810,"km":-0.007},{"time":"700 sec","wn":3790,"km":-0.005},{"time":"700 sec","wn":3770,"km":-0.006},{"time":"700 sec","wn":3750,"km":-0.002},{"time":"700 sec","wn":3735,"km":0.008},{"time":"700 sec","wn":3725,"km":0.045},{"time":"700 sec","wn":3718,"km":0.130},{"time":"700 sec","wn":3713,"km":0.167},{"time":"700 sec","wn":3707,"km":0.150},{"time":"700 sec","wn":3700,"km":0.140},{"time":"700 sec","wn":3692,"km":0.132},{"time":"700 sec","wn":3684,"km":0.118},{"time":"700 sec","wn":3677,"km":0.108},{"time":"700 sec","wn":3668,"km":0.120},{"time":"700 sec","wn":3660,"km":0.132},{"time":"700 sec","wn":3652,"km":0.120},{"time":"700 sec","wn":3644,"km":0.110},{"time":"700 sec","wn":3635,"km":0.135},{"time":"700 sec","wn":3626,"km":0.160},{"time":"700 sec","wn":3610,"km":0.185},{"time":"700 sec","wn":3595,"km":0.205},{"time":"700 sec","wn":3580,"km":0.220},{"time":"700 sec","wn":3567,"km":0.233},{"time":"700 sec","wn":3550,"km":0.258},{"time":"700 sec","wn":3535,"km":0.280},{"time":"700 sec","wn":3520,"km":0.298},{"time":"700 sec","wn":3509,"km":0.308},{"time":"700 sec","wn":3495,"km":0.325},{"time":"700 sec","wn":3485,"km":0.335},{"time":"700 sec","wn":3477,"km":0.340},{"time":"700 sec","wn":3470,"km":0.325},{"time":"700 sec","wn":3466,"km":0.305},{"time":"700 sec","wn":3461,"km":0.330},{"time":"700 sec","wn":3455,"km":0.355},{"time":"700 sec","wn":3445,"km":0.365},{"time":"700 sec","wn":3430,"km":0.370},{"time":"700 sec","wn":3410,"km":0.375},{"time":"700 sec","wn":3392,"km":0.376},{"time":"700 sec","wn":3370,"km":0.377},{"time":"700 sec","wn":3348,"km":0.376},{"time":"700 sec","wn":3330,"km":0.373},{"time":"700 sec","wn":3315,"km":0.369},{"time":"700 sec","wn":3300,"km":0.365},{"time":"700 sec","wn":3285,"km":0.357},{"time":"700 sec","wn":3275,"km":0.352},{"time":"700 sec","wn":3260,"km":0.349},{"time":"700 sec","wn":3240,"km":0.347},{"time":"700 sec","wn":3220,"km":0.345},{"time":"700 sec","wn":3200,"km":0.339},{"time":"700 sec","wn":3185,"km":0.330},{"time":"700 sec","wn":3173,"km":0.322},{"time":"700 sec","wn":3160,"km":0.311},{"time":"700 sec","wn":3143,"km":0.294},{"time":"700 sec","wn":3129,"km":0.273},{"time":"700 sec","wn":3115,"km":0.248},{"time":"700 sec","wn":3105,"km":0.225},{"time":"700 sec","wn":3097,"km":0.198},{"time":"700 sec","wn":3090,"km":0.150},{"time":"700 sec","wn":3084,"km":0.087},{"time":"700 sec","wn":3078,"km":0.165},{"time":"700 sec","wn":3072,"km":0.140},{"time":"700 sec","wn":3064,"km":0.115},{"time":"700 sec","wn":3056,"km":0.160},{"time":"700 sec","wn":3048,"km":0.182},{"time":"700 sec","wn":3035,"km":0.192},{"time":"700 sec","wn":3026,"km":0.194},{"time":"700 sec","wn":3015,"km":0.188},{"time":"700 sec","wn":3000,"km":0.172},{"time":"700 sec","wn":2982,"km":0.155},{"time":"700 sec","wn":2965,"km":0.136},{"time":"700 sec","wn":2950,"km":0.120},{"time":"700 sec","wn":2935,"km":0.107},{"time":"700 sec","wn":2924,"km":0.100},{"time":"700 sec","wn":2905,"km":0.092},{"time":"700 sec","wn":2885,"km":0.085},{"time":"700 sec","wn":2866,"km":0.078},{"time":"700 sec","wn":2850,"km":0.073},{"time":"700 sec","wn":2836,"km":0.070},{"time":"700 sec","wn":2820,"km":0.065},{"time":"700 sec","wn":2806,"km":0.060},{"time":"700 sec","wn":2790,"km":0.063},{"time":"700 sec","wn":2775,"km":0.058},{"time":"700 sec","wn":2749,"km":0.055},{"time":"700 sec","wn":2720,"km":0.050},{"time":"700 sec","wn":2690,"km":0.045},{"time":"700 sec","wn":2661,"km":0.040},{"time":"700 sec","wn":2640,"km":0.036},{"time":"700 sec","wn":2617,"km":0.031},{"time":"700 sec","wn":2590,"km":0.029},{"time":"700 sec","wn":2560,"km":0.027},{"time":"700 sec","wn":2530,"km":0.025},{"time":"700 sec","wn":2506,"km":0.022},{"time":"700 sec","wn":2480,"km":0.024},{"time":"700 sec","wn":2447,"km":0.026},{"time":"700 sec","wn":2420,"km":0.024},{"time":"700 sec","wn":2388,"km":0.020},{"time":"700 sec","wn":2365,"km":0.013},{"time":"700 sec","wn":2350,"km":0.019},{"time":"700 sec","wn":2335,"km":0.016},{"time":"700 sec","wn":2309,"km":0.024},{"time":"700 sec","wn":2290,"km":0.030},{"time":"700 sec","wn":2270,"km":0.034},{"time":"700 sec","wn":2250,"km":0.037},{"time":"700 sec","wn":2235,"km":0.045},{"time":"700 sec","wn":2224,"km":0.065},{"time":"700 sec","wn":2215,"km":0.048},{"time":"700 sec","wn":2207,"km":0.018},{"time":"700 sec","wn":2199,"km":0.000},{"time":"700 sec","wn":2190,"km":0.015},{"time":"700 sec","wn":2178,"km":0.036},{"time":"700 sec","wn":2160,"km":0.042},{"time":"700 sec","wn":2145,"km":0.046},{"time":"700 sec","wn":2132,"km":0.052},{"time":"700 sec","wn":2122,"km":0.072},{"time":"700 sec","wn":2114,"km":0.058},{"time":"700 sec","wn":2105,"km":0.035},{"time":"700 sec","wn":2095,"km":0.030},{"time":"700 sec","wn":2082,"km":0.038},{"time":"700 sec","wn":2065,"km":0.043},{"time":"700 sec","wn":2050,"km":0.042},{"time":"700 sec","wn":2032,"km":0.043},{"time":"700 sec","wn":2015,"km":0.042},{"time":"700 sec","wn":2000,"km":0.042}
]
},
"concat": [
{
  "width": 572, "height": 461,
  "layer": [
    {
      "data": {"name": "A"},
      "mark": {"type": "line", "strokeWidth": 2.7, "clip": true, "strokeJoin": "round"},
      "encoding": {
        "x": {"field": "wn", "type": "quantitative", "scale": {"domain": [2000, 4500], "reverse": true, "nice": false, "zero": false},
              "axis": {"title": "Wavenumber (cm⁻¹)", "tickCount": 30, "values": [4500,4250,4000,3750,3500,3250,3000,2750,2500,2250,2000], "labelExpr": "datum.value % 500 == 0 ? format(datum.value, 'd') : ''", "tickSize": {"condition": {"test": "datum.value % 500 == 0", "value": 8}, "value": 4}, "labelPadding": 9, "titlePadding": 20}},
        "y": {"field": "km", "type": "quantitative", "scale": {"domain": [-0.05, 0.6], "nice": false, "zero": false},
              "axis": {"title": "Kubelka-Munk Function", "titleFontSize": 26, "tickCount": 30, "values": [-0.05,0,0.05,0.1,0.15,0.2,0.25,0.3,0.35,0.4,0.45,0.5,0.55,0.6], "labelExpr": "datum.value >= 0 && (datum.value * 20) % 2 < 0.5 ? format(datum.value, '.1f') : ''", "tickSize": {"condition": {"test": "datum.value >= 0 && (datum.value * 20) % 2 < 0.5", "value": 8}, "value": 4}, "labelPadding": 8, "titlePadding": 26}},
        "color": {"field": "time", "type": "nominal", "scale": {"domain": ["120 sec","220 sec","420 sec","620 sec","720 sec"], "range": ["#2020a8","#2255e0","#44dd33","#ffaa2a","#ee2222"]},
                  "legend": {"legendX": 16, "legendY": 11}}
      }
    },
    {
      "data": {"values": [{"label": "A"}]},
      "mark": {"type": "text", "fontSize": 31, "font": "Liberation Sans", "baseline": "middle", "align": "center", "color": "black"},
      "encoding": {"x": {"datum": 2118}, "y": {"datum": 0.554}, "text": {"field": "label"}}
    }
  ]
},
{
  "width": 572, "height": 461,
  "layer": [
    {
      "data": {"name": "B"},
      "mark": {"type": "line", "strokeWidth": 2.7, "clip": true, "strokeJoin": "round"},
      "encoding": {
        "x": {"field": "wn", "type": "quantitative", "scale": {"domain": [2000, 4500], "reverse": true, "nice": false, "zero": false},
              "axis": {"title": "Wavenumber (cm⁻¹)", "tickCount": 30, "values": [4500,4250,4000,3750,3500,3250,3000,2750,2500,2250,2000], "labelExpr": "datum.value % 500 == 0 ? format(datum.value, 'd') : ''", "tickSize": {"condition": {"test": "datum.value % 500 == 0", "value": 8}, "value": 4}, "labelPadding": 9, "titlePadding": 20}},
        "y": {"field": "km", "type": "quantitative", "scale": {"domain": [-0.05, 0.6], "nice": false, "zero": false},
              "axis": {"title": "Kubelka-Munk Function", "titleFontSize": 26, "tickCount": 30, "values": [-0.05,0,0.05,0.1,0.15,0.2,0.25,0.3,0.35,0.4,0.45,0.5,0.55,0.6], "labelExpr": "datum.value >= 0 && (datum.value * 20) % 2 < 0.5 ? format(datum.value, '.1f') : ''", "tickSize": {"condition": {"test": "datum.value >= 0 && (datum.value * 20) % 2 < 0.5", "value": 8}, "value": 4}, "labelPadding": 8, "titlePadding": 26}},
        "color": {"field": "time", "type": "nominal", "scale": {"domain": ["20 sec","100 sec","300 sec","500 sec","700 sec"], "range": ["#2020a8","#2255e0","#44dd33","#ffaa2a","#ee2222"]},
                  "legend": {"legendX": 12, "legendY": 10}}
      }
    },
    {
      "data": {"values": [{"label": "B"}]},
      "mark": {"type": "text", "fontSize": 31, "font": "Liberation Sans", "baseline": "middle", "align": "center", "color": "black"},
      "encoding": {"x": {"datum": 2125}, "y": {"datum": 0.554}, "text": {"field": "label"}}
    }
  ]
}
]
}
